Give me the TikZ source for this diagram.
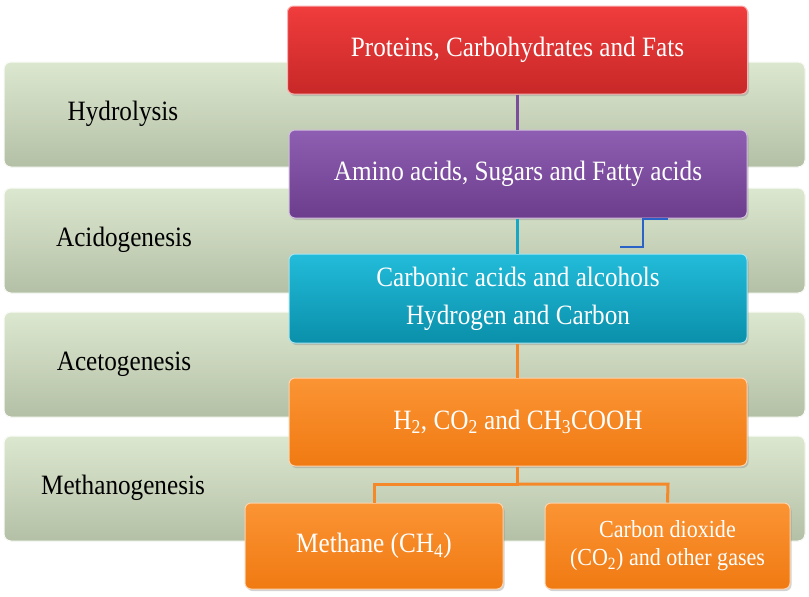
\documentclass[tikz,border=0pt]{standalone}
\usepackage{fontspec}
\setmainfont{Liberation Serif}[FakeStretch=0.9]
\usetikzlibrary{shadows}
\definecolor{bandtop}{HTML}{DCE7CF}
\definecolor{bandbot}{HTML}{B4C0A6}
\definecolor{redtop}{HTML}{F03C3C}
\definecolor{redbot}{HTML}{C82828}
\definecolor{purtop}{HTML}{8E5EB2}
\definecolor{purbot}{HTML}{6C3D8C}
\definecolor{cyantop}{HTML}{22BCDA}
\definecolor{cyanbot}{HTML}{0A8FAA}
\definecolor{orgtop}{HTML}{FB9434}
\definecolor{orgbot}{HTML}{F07A12}
\definecolor{purline}{HTML}{7B4E9B}
\definecolor{cyanline}{HTML}{17A7C4}
\definecolor{orgline}{HTML}{F5892A}
\definecolor{blueline}{HTML}{2A62C8}
\tikzset{
  band/.style={rounded corners=7pt, top color=bandtop, bottom color=bandbot, draw=white!85!bandtop, line width=1pt},
  stagelabel/.style={font=\fontsize{28}{32}\selectfont, text=black, anchor=center},
  procbox/.style={rounded corners=6pt, draw=white!60!#1top, line width=1pt, top color=#1top, bottom color=#1bot,
    text=white, font=\fontsize{28}{38}\selectfont, align=center, inner sep=0pt,
    drop shadow={shadow xshift=1.5pt, shadow yshift=-2pt, opacity=0.35}},
  conn/.style={line width=3pt, draw=#1}
}
\begin{document}
\begin{tikzpicture}[x=1pt,y=-1pt]
\useasboundingbox (0,0) rectangle (809,597);
% bands
\fill[band] (4,62) rectangle (805,167);
\fill[band] (4,188) rectangle (805,293);
\fill[band] (4,312) rectangle (805,417);
\fill[band] (4,436) rectangle (805,541);
\draw[band, fill=none] (4,62) rectangle (805,167);
\draw[band, fill=none] (4,188) rectangle (805,293);
\draw[band, fill=none] (4,312) rectangle (805,417);
\draw[band, fill=none] (4,436) rectangle (805,541);
\node[stagelabel] (l1) at (123,114) {Hydrolysis};
\node[stagelabel] (l2) at (124,240) {Acidogenesis};
\node[stagelabel] (l3) at (124,364) {Acetogenesis};
\node[stagelabel] (l4) at (123,488) {Methanogenesis};
% free ends of the tree
\coordinate (tj) at (517,484);
\coordinate (tl) at (374,484);
\coordinate (tr) at (668,484);
% boxes
\node[procbox=red, minimum width=460pt, minimum height=88pt] (b1) at (517.5,50) {Proteins, Carbohydrates and Fats};
\node[procbox=pur, minimum width=458pt, minimum height=88pt] (b2) at (518,174) {Amino acids, Sugars and Fatty acids};
\node[procbox=cyan, minimum width=458pt, minimum height=89pt] (b3) at (518,298.5) {Carbonic acids and alcohols\\Hydrogen and Carbon};
\node[procbox=org, minimum width=458pt, minimum height=88pt] (b4) at (518,422) {H\textsubscript{2}, CO\textsubscript{2} and CH\textsubscript{3}COOH};
\node[procbox=org, minimum width=258pt, minimum height=86pt] (b5) at (374,546) {Methane (CH\textsubscript{4})};
\node[procbox=org, minimum width=245pt, minimum height=86pt, font=\fontsize{24.5}{28}\selectfont] (b6) at (667.5,546) {Carbon dioxide\\(CO\textsubscript{2}) and other gases};
% connectors
\draw[conn=purline] (b1.south -| 517,0) -- (b2.north -| 517,0);
\draw[conn=cyanline] (b2.south -| 517,0) -- (b3.north -| 517,0);
\draw[conn=orgline] (b3.south -| 517,0) -- (b4.north -| 517,0);
\draw[conn=orgline] (b4.south -| 517,0) -- (tj) -- (tl) -- (b5.north);
\draw[conn=orgline] (tj) -- (tr) -- (b6.north);
% blue step mark
\coordinate (s1) at (668,219);
\coordinate (s2) at (643,219);
\coordinate (s3) at (643,247);
\coordinate (s4) at (620,247);
\draw[line width=2.5pt, blueline] (s1) -- (s2) -- (s3) -- (s4);
\end{tikzpicture}
\end{document}
